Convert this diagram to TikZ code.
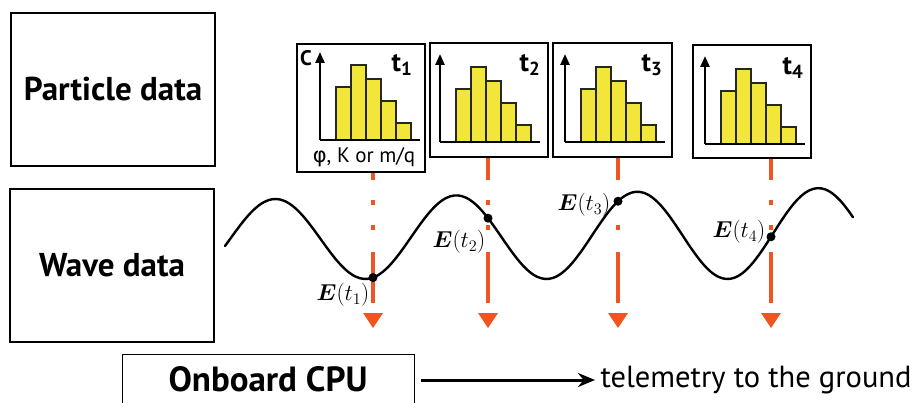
\RequirePackage{fix-cm}
\documentclass[tikz,border=0pt]{standalone}
\usepackage{amsmath,bm}
\usepackage{fontspec}
\setmainfont{PT Sans}
\newfontfamily\phifont{DejaVu Sans}
\usepackage{tikz}
\usetikzlibrary{arrows.meta, positioning, calc}
\definecolor{probe}{RGB}{238,85,35}
\definecolor{barfill}{RGB}{242,230,58}

% axes and bars of one distribution, origin at #1,#2
\newcommand{\histo}[2]{%
  \foreach \h [count=\k from 0] in {53,75,61,39,17}
    \draw[histbar] ({#1+16+15*\k},#2) rectangle ++(15,-\h);
  \draw[histaxis, -{Triangle[length=11pt,width=9pt]}] (#1,#2) -- ++(0,-88);
  \draw[histaxis] (#1,#2) -- ++(100,0);
}

\begin{document}
\begin{tikzpicture}[x=1pt, y=-1pt,
  databox/.style={draw, line width=1.4pt, minimum width=204pt, minimum height=153pt, font=\fontsize{33}{36}\selectfont\bfseries},
  histbox/.style={draw, fill=white, line width=1.8pt},
  histaxis/.style={line width=2.4pt},
  histbar/.style={draw=black!85, line width=1.1pt, fill=barfill},
  tlabel/.style={font=\fontsize{27}{29}\selectfont},
  probeline/.style={probe, line width=3.6pt, dash pattern=on 51pt off 22pt on 5pt off 20pt on 5pt off 20pt},
  wave/.style={line width=2.4pt, line cap=round},
  edot/.style={circle, fill=black, inner sep=0pt, minimum size=9pt},
  elabel/.style={font=\fontsize{23}{26}\selectfont, inner sep=0pt},
  sendarrow/.style={line width=3pt, -{Stealth[length=17pt,width=14pt]}},
  declare function={wy(\t)=(239-0.01*(\t-275))-(40+0.01*(\t-275))*cos(1.98895*(\t-275));}
]
\useasboundingbox (0,0) rectangle (917,403);

% left labels
\node[databox] (part) at (113,89.5) {Particle data};
\node[databox] (wave) at (112,265.5) {Wave data};

% distributions
\node[histbox, minimum width=128pt, minimum height=128pt] (h1) at (361,108) {};
\node[histbox, minimum width=118pt, minimum height=114pt] (h2) at (489,100) {};
\node[histbox, minimum width=119pt, minimum height=114pt] (h3) at (612.5,100) {};
\node[histbox, minimum width=118pt, minimum height=113pt] (h4) at (752,101.5) {};
\histo{320}{140}
\histo{440}{142}
\histo{565}{142}
\histo{705}{144}
\node[font=\fontsize{21}{23}\selectfont\bfseries] (clab) at (306,58) {C};
\node[font=\fontsize{21}{24}\selectfont] (xlab) at (364,157) {{\phifont φ}, K or m/q};
\node[tlabel] (t1) at (402,65) {$\mathbf{t_1}$};
\node[tlabel] (t2) at (530,65) {$\mathbf{t_2}$};
\node[tlabel] (t3) at (652,65) {$\mathbf{t_3}$};
\node[tlabel] (t4) at (793,68) {$\mathbf{t_4}$};

% sampling lines
\foreach \n/\px in {1/373, 2/488, 3/618, 4/771} {
  \coordinate (a\n) at (\px,303);
  \draw[probeline] (a\n) -- (a\n |- h\n.south);
  \fill[probe] ([xshift=-10pt,yshift=-10pt]a\n) -- ([xshift=10pt,yshift=-10pt]a\n) -- ([yshift=-25pt]a\n) -- cycle;
}

% wave field
\draw[wave] plot[domain=225:853, samples=160, smooth] (\x,{wy(\x)});
\foreach \n/\px in {1/373, 2/488, 3/618, 4/771}
  \node[edot] (e\n) at (\px,{wy(\px)}) {};
\node[elabel] (el1) at (343,295) {$\boldsymbol{E}(t_1)$};
\node[elabel] (el2) at (459,242) {$\boldsymbol{E}(t_2)$};
\node[elabel] (el3) at (584,205) {$\boldsymbol{E}(t_3)$};
\node[elabel] (el4) at (739,232) {$\boldsymbol{E}(t_4)$};

% onboard
\node[draw, line width=1.4pt, minimum width=292pt, minimum height=70pt, anchor=north west] (cpubox) at (122,354) {};
\node[font=\fontsize{35}{38}\selectfont\bfseries] (cpu) at (268,379) {Onboard CPU};
\node[font=\fontsize{30.5}{33}\selectfont, anchor=west] (telem) at (597,380) {telemetry to the ground};
\draw[sendarrow, shorten <=6pt, shorten >=2pt] (cpubox.east |- telem) -- (telem.west);
\end{tikzpicture}
\end{document}
